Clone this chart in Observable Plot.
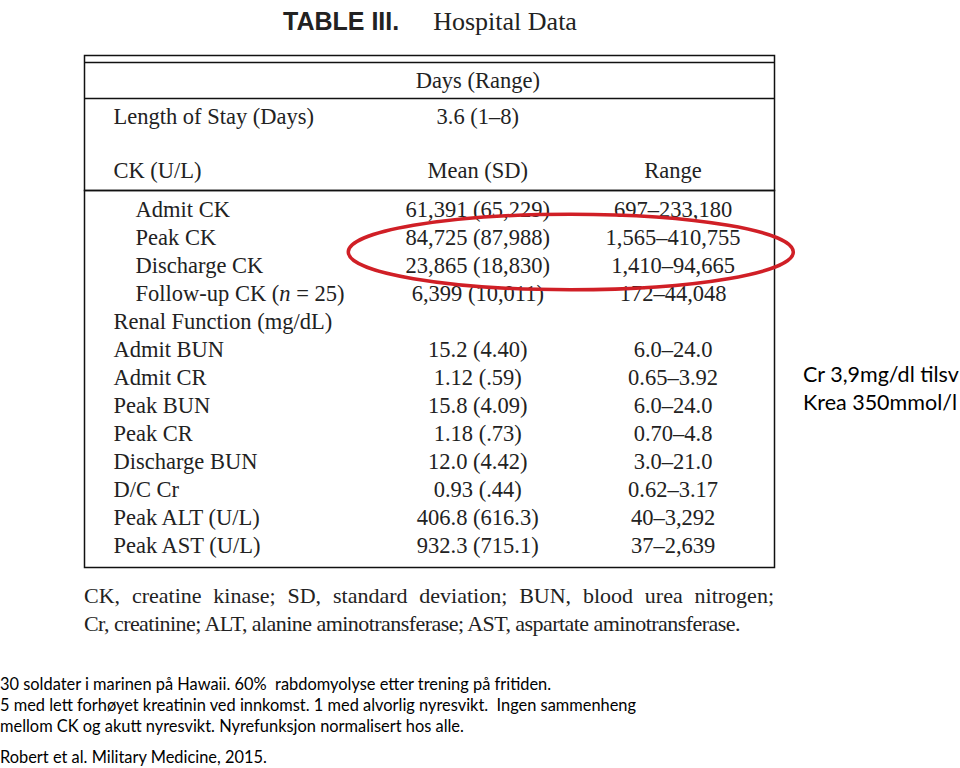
<!DOCTYPE html>
<html><head><meta charset="utf-8">
<script src="https://cdn.jsdelivr.net/npm/d3@7"></script>
<script src="https://cdn.jsdelivr.net/npm/@observablehq/plot@0.6"></script>
<style>
html,body{margin:0;padding:0;background:#fff;}
#page{position:relative;width:960px;height:768px;overflow:hidden;background:#fff;color:#222;}
#page svg{position:absolute;left:0;overflow:visible;}
#title{position:absolute;left:283px;top:7px;line-height:30px;white-space:nowrap;color:#222;}
#title .t1{font:bold 25px "Liberation Sans",Arial,sans-serif;margin-right:34px;}
#title .t2{font:26px "Liberation Serif","Times New Roman",serif;}
#caption{position:absolute;left:84px;top:582px;width:690px;font:22px "Liberation Serif","Times New Roman",serif;line-height:28px;color:#222;}
#caption .l1{text-align:justify;text-align-last:justify;white-space:nowrap;}
#caption .l2{white-space:nowrap;letter-spacing:-0.55px;}
#notes{position:absolute;left:0;top:673px;font:16.4px Lato,"Open Sans",sans-serif;line-height:21px;color:#000;white-space:pre;}
#ref{position:absolute;left:0;top:746px;font:16.4px Lato,"Open Sans",sans-serif;line-height:21px;color:#000;white-space:pre;}
#side{position:absolute;left:803px;top:360px;font:21.5px Lato,"Open Sans",sans-serif;line-height:28px;color:#000;white-space:pre;}
</style></head><body><div id="page"></div>
<script>
// ---------------- data ----------------
const titleParts = ["TABLE III.", "Hospital Data"];
const headLabels = ["", "Length of Stay (Days)", "CK (U/L)"];
const headMean = ["Days (Range)", "3.6 (1–8)", "Mean (SD)"];
const headRange = ["", "", "Range"];
const bodyLabels = ["Admit CK", "Peak CK", "Discharge CK", "Follow-up CK (n = 25)", "Renal Function (mg/dL)",
  "Admit BUN", "Admit CR", "Peak BUN", "Peak CR", "Discharge BUN", "D/C Cr", "Peak ALT (U/L)", "Peak AST (U/L)"];
const bodyMean = ["61,391 (65,229)", "84,725 (87,988)", "23,865 (18,830)", "6,399 (10,011)", "",
  "15.2 (4.40)", "1.12 (.59)", "15.8 (4.09)", "1.18 (.73)", "12.0 (4.42)", "0.93 (.44)", "406.8 (616.3)", "932.3 (715.1)"];
const bodyRange = ["697–233,180", "1,565–410,755", "1,410–94,665", "172–44,048", "",
  "6.0–24.0", "0.65–3.92", "6.0–24.0", "0.70–4.8", "3.0–21.0", "0.62–3.17", "40–3,292", "37–2,639"];
const ckSubrows = ["Admit CK", "Peak CK", "Discharge CK", "Follow-up CK (n = 25)"];
const highlighted = ["Peak CK", "Discharge CK"];
const captionLines = ["CK, creatine kinase; SD, standard deviation; BUN, blood urea nitrogen;",
  "Cr, creatinine; ALT, alanine aminotransferase; AST, aspartate aminotransferase."];
const noteLines = ["30 soldater i marinen på Hawaii. 60%  rabdomyolyse etter trening på fritiden.",
  "5 med lett forhøyet kreatinin ved innkomst. 1 med alvorlig nyresvikt.  Ingen sammenheng",
  "mellom CK og akutt nyresvikt. Nyrefunksjon normalisert hos alle."];
const reference = "Robert et al. Military Medicine, 2015.";
const sideNote = ["Cr 3,9mg/dl tilsv", "Krea 350mmol/l"];

// ---------------- layout (table units: 0 = left border, 1 = right border) ----------------
const colX = {label: 0.042, indent: 0.074, mean: 0.57, range: 0.853};
const ellipseSpan = [0.383, 1.028];
const serif = "Liberation Serif";
const ink = "#222";
const lineStyle = {stroke: "#111", strokeWidth: 1.5};
const textStyle = {fontFamily: serif, fontSize: 22.5, fill: ink};
const headSlots = ["rule:double", "row:0", "rule:sep", "row:1", "gap:a", "gap:b", "row:2"];

const page = document.getElementById("page");

const title = document.createElement("div");
title.id = "title";
title.innerHTML = `<span class="t1">${titleParts[0]}</span><span class="t2">${titleParts[1]}</span>`;
page.appendChild(title);

const common = {width: 960, marginLeft: 84, marginRight: 186, x: {domain: [0, 1], axis: null},
  style: {background: "transparent", fontFamily: serif}};

// header block
const head = Plot.plot({
  ...common, height: 191, marginTop: 55, marginBottom: 1,
  y: {type: "point", domain: headSlots, range: [61, 171], padding: 0, axis: null},
  marks: [
    Plot.frame(lineStyle),
    Plot.ruleY(["rule:double", "rule:sep"], lineStyle),
    Plot.text(headLabels, {x: colX.label, y: (d, i) => "row:" + i, text: d => d, textAnchor: "start", ...textStyle}),
    Plot.text(headMean, {x: colX.mean, y: (d, i) => "row:" + i, text: d => d, textAnchor: "middle", ...textStyle}),
    Plot.text(headRange, {x: colX.range, y: (d, i) => "row:" + i, text: d => d, textAnchor: "middle", ...textStyle})
  ]
});
head.style.top = "0px";
page.appendChild(head);

function ellipseMark(...args) {
  const scales = (args[1] && args[1].x) ? args[1] : args[0];
  const {x, y} = scales;
  const y0 = y(highlighted[0]), y1 = y(highlighted[highlighted.length - 1]);
  const step = y(bodyLabels[1]) - y(bodyLabels[0]);
  const x0 = x(ellipseSpan[0]), x1 = x(ellipseSpan[1]);
  const e = document.createElementNS("http://www.w3.org/2000/svg", "ellipse");
  e.setAttribute("cx", (x0 + x1) / 2);
  e.setAttribute("cy", (y0 + y1) / 2 + 1);
  e.setAttribute("rx", (x1 - x0) / 2);
  e.setAttribute("ry", step * 1.35);
  e.setAttribute("fill", "none");
  e.setAttribute("stroke", "#d01f26");
  e.setAttribute("stroke-width", 3.5);
  return e;
}

// body block
const body = Plot.plot({
  ...common, height: 378, marginTop: 0, marginBottom: 1,
  y: {type: "point", domain: bodyLabels, range: [17, 356], padding: 0, axis: null},
  marks: [
    Plot.frame(lineStyle),
    Plot.text(bodyLabels, {x: d => ckSubrows.includes(d) ? colX.indent : colX.label, y: d => d, text: d => d, textAnchor: "start", ...textStyle}),
    Plot.text(bodyMean, {x: colX.mean, y: (d, i) => bodyLabels[i], text: d => d, textAnchor: "middle", ...textStyle}),
    Plot.text(bodyRange, {x: colX.range, y: (d, i) => bodyLabels[i], text: d => d, textAnchor: "middle", ...textStyle}),
    ellipseMark
  ]
});
body.style.top = "190px";
page.appendChild(body);

// italic "n"
d3.select(body).selectAll("text").each(function() {
  if (this.textContent === ckSubrows[3] && !this.querySelector("tspan")) {
    const m = this.textContent.match(/^(.*\()n( = .*)$/);
    if (m) {
      const t = d3.select(this);
      t.text("");
      t.append("tspan").text(m[1]);
      t.append("tspan").attr("font-style", "italic").text("n");
      t.append("tspan").text(m[2]);
    }
  }
});

const cap = document.createElement("div");
cap.id = "caption";
cap.innerHTML = `<div class="l1">${captionLines[0]}</div><div class="l2">${captionLines[1]}</div>`;
page.appendChild(cap);

const notes = document.createElement("div");
notes.id = "notes";
notes.textContent = noteLines.join("\n");
page.appendChild(notes);

const ref = document.createElement("div");
ref.id = "ref";
ref.textContent = reference;
page.appendChild(ref);

const side = document.createElement("div");
side.id = "side";
side.textContent = sideNote.join("\n");
page.appendChild(side);
</script></body></html>
